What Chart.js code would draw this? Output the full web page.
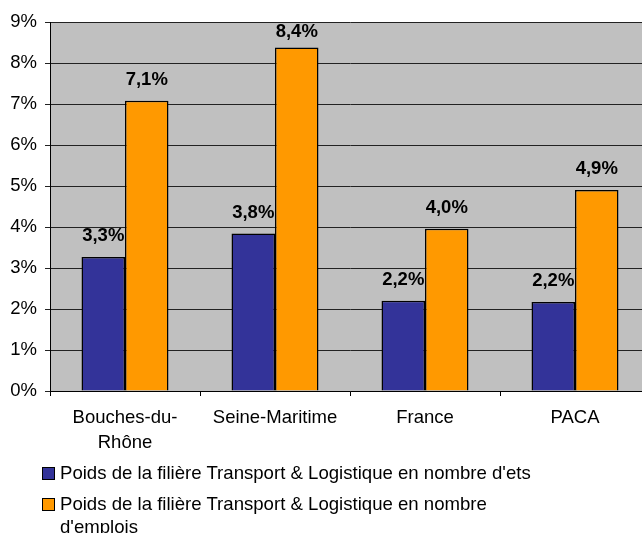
<!DOCTYPE html>
<html>
<head>
<meta charset="utf-8">
<script src="https://cdn.jsdelivr.net/npm/chart.js@4"></script>
<style>
  html, body { margin: 0; padding: 0; background: #fff; overflow: hidden; }
  #wrap { position: relative; width: 642px; height: 533px; overflow: hidden; }
  canvas { position: absolute; left: 0; top: 0; }
  #legend { position: absolute; left: 42px; top: 462px; font: 18.6px "Liberation Sans", Arial, sans-serif; color: #000; }
  .item { display: flex; align-items: flex-start; margin-bottom: 9px; }
  .box { width: 11px; height: 11px; border: 1px solid #000; margin-top: 5px; margin-right: 5px; flex: none; }
  .txt { width: 490px; line-height: 23px; margin-top: -1px; }
</style>
</head>
<body>
<div id="wrap">
  <canvas id="chart" width="650" height="533"></canvas>
  <div id="legend"></div>
</div>
<script>
const categories = [['Bouches-du-', 'Rhône'], 'Seine-Maritime', 'France', 'PACA'];
const etsValues = [3.27, 3.84, 2.2, 2.17];
const emploisValues = [7.08, 8.38, 3.96, 4.9];
const seriesLabels = [
  "Poids de la filière Transport & Logistique en nombre d'ets",
  "Poids de la filière Transport & Logistique en nombre d'emplois"
];
const seriesColors = ['#333399', '#FF9900'];

const fontFamily = '"Liberation Sans", Arial, sans-serif';

// gray plot area like the Excel original
const plotBackground = {
  id: 'plotBackground',
  beforeDraw(chart) {
    const { ctx, chartArea } = chart;
    ctx.save();
    ctx.fillStyle = '#C0C0C0';
    ctx.fillRect(chartArea.left, chartArea.top, chartArea.right - chartArea.left, chartArea.bottom - chartArea.top);
    ctx.restore();
  }
};

// bold value labels above the bars
const valueLabels = {
  id: 'valueLabels',
  afterDatasetsDraw(chart) {
    const { ctx, chartArea } = chart;
    ctx.save();
    ctx.font = 'bold 18.5px ' + fontFamily;
    ctx.fillStyle = '#000';
    ctx.textAlign = 'center';
    ctx.textBaseline = 'middle';
    chart.data.datasets.forEach((ds, i) => {
      chart.getDatasetMeta(i).data.forEach((bar, j) => {
        const txt = ds.data[j].toFixed(1).replace('.', ',') + '%';
        const y = Math.max(bar.y - 21, chartArea.top + 10);
        ctx.fillText(txt, bar.x, y);
      });
    });
    ctx.restore();
  }
};

const ctx = document.getElementById('chart').getContext('2d');
const chart = new Chart(ctx, {
  type: 'bar',
  data: {
    labels: categories,
    datasets: [
      {
        label: seriesLabels[0],
        data: etsValues,
        backgroundColor: seriesColors[0],
        borderColor: '#000',
        borderWidth: 1.5
      },
      {
        label: seriesLabels[1],
        data: emploisValues,
        backgroundColor: seriesColors[1],
        borderColor: '#000',
        borderWidth: 1.5
      }
    ]
  },
  options: {
    responsive: false,
    animation: false,
    layout: { padding: { top: 22, right: 0, bottom: 82, left: 0 } },
    plugins: {
      legend: { display: false },
      tooltip: { enabled: false }
    },
    datasets: {
      bar: { categoryPercentage: 0.58, barPercentage: 1 }
    },
    scales: {
      x: {
        grid: { offset: true, drawOnChartArea: false, color: '#000', tickLength: 5 },
        border: { color: '#000', width: 1 },
        ticks: {
          color: '#000',
          padding: 9,
          maxRotation: 0,
          font: { family: fontFamily, size: 18.5, lineHeight: 1.38 }
        },
        afterFit(scale) { scale.height = 60; }
      },
      y: {
        min: 0,
        max: 9,
        grid: { color: '#222', tickLength: 5 },
        border: { color: '#000', width: 1 },
        ticks: {
          stepSize: 1,
          color: '#000',
          padding: 8,
          font: { family: fontFamily, size: 18.5 },
          callback: v => v + '%'
        },
        afterFit(scale) { scale.width = 50; }
      }
    }
  },
  plugins: [plotBackground, valueLabels]
});

// legend in HTML so the long label can wrap like the original
const legend = document.getElementById('legend');
chart.data.datasets.forEach(ds => {
  const item = document.createElement('div');
  item.className = 'item';
  const box = document.createElement('div');
  box.className = 'box';
  box.style.background = ds.backgroundColor;
  const txt = document.createElement('div');
  txt.className = 'txt';
  txt.textContent = ds.label;
  item.appendChild(box);
  item.appendChild(txt);
  legend.appendChild(item);
});
</script>
</body>
</html>
